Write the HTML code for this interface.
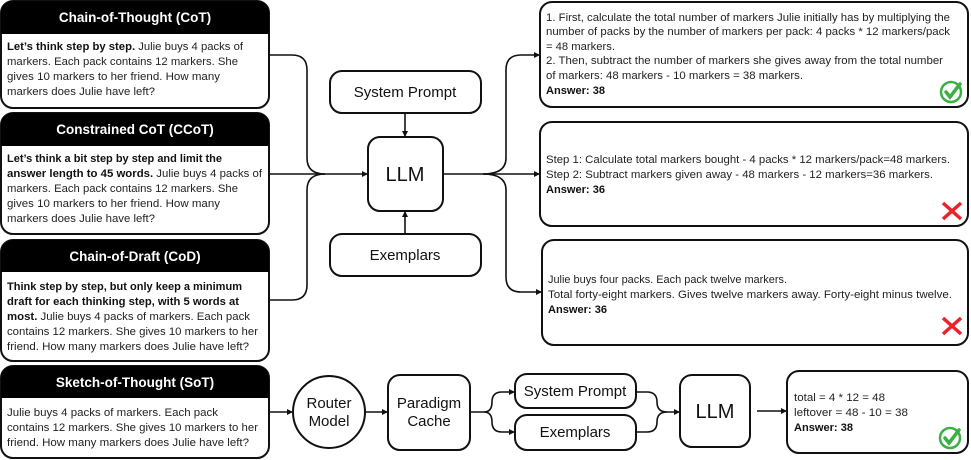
<!DOCTYPE html>
<html><head><meta charset="utf-8"><style>
html,body{margin:0;padding:0;background:#fff;}
svg{display:block;}
text{font-family:"Liberation Sans",sans-serif;fill:#222;}
.t{font-size:11px;}
.b{font-weight:bold;fill:#111;}
.h{font-size:13.5px;font-weight:bold;fill:#fff;}
.n{font-size:15px;fill:#111;}
.box{fill:#fff;stroke:#111;stroke-width:2;}
.ln{fill:none;stroke:#111;stroke-width:1.6;}
</style></head><body>
<svg width="971" height="460" viewBox="0 0 971 460" xmlns="http://www.w3.org/2000/svg">
<defs><marker id="a" markerWidth="6" markerHeight="6" refX="5" refY="3" orient="auto" markerUnits="userSpaceOnUse"><path d="M0,0 L6,3 L0,6 z" fill="#111"/></marker></defs>

<!-- Left boxes -->
<rect class="box" x="1" y="1" width="268" height="107" rx="12"/>
<path d="M1,13 a12,12 0 0 1 12,-12 h244 a12,12 0 0 1 12,12 v21 h-268 z" fill="#000"/>
<text class="h" x="135" y="22" text-anchor="middle">Chain-of-Thought (CoT)</text>
<text class="t" x="7" y="50" textLength="236" lengthAdjust="spacingAndGlyphs"><tspan class="b">Let’s think step by step.</tspan> Julie buys 4 packs of</text>
<text class="t" x="7" y="65" textLength="231" lengthAdjust="spacingAndGlyphs">markers. Each pack contains 12 markers. She</text>
<text class="t" x="7" y="80" textLength="213" lengthAdjust="spacingAndGlyphs">gives 10 markers to her friend. How many</text>
<text class="t" x="7" y="95" textLength="148" lengthAdjust="spacingAndGlyphs">markers does Julie have left?</text>

<rect class="box" x="1" y="113" width="268" height="121" rx="12"/>
<path d="M1,125 a12,12 0 0 1 12,-12 h244 a12,12 0 0 1 12,12 v21 h-268 z" fill="#000"/>
<text class="h" x="135" y="134" text-anchor="middle">Constrained CoT (CCoT)</text>
<text class="t b" x="7" y="162" textLength="215" lengthAdjust="spacingAndGlyphs">Let’s think a bit step by step and limit the</text>
<text class="t" x="7" y="177" textLength="255" lengthAdjust="spacingAndGlyphs"><tspan class="b">answer length to 45 words.</tspan> Julie buys 4 packs of</text>
<text class="t" x="7" y="192" textLength="231" lengthAdjust="spacingAndGlyphs">markers. Each pack contains 12 markers. She</text>
<text class="t" x="7" y="207" textLength="213" lengthAdjust="spacingAndGlyphs">gives 10 markers to her friend. How many</text>
<text class="t" x="7" y="222" textLength="148" lengthAdjust="spacingAndGlyphs">markers does Julie have left?</text>

<rect class="box" x="1" y="240" width="268" height="121" rx="12"/>
<path d="M1,252 a12,12 0 0 1 12,-12 h244 a12,12 0 0 1 12,12 v20 h-268 z" fill="#000"/>
<text class="h" x="135" y="261" text-anchor="middle">Chain-of-Draft (CoD)</text>
<text class="t b" x="7" y="290" textLength="235" lengthAdjust="spacingAndGlyphs">Think step by step, but only keep a minimum</text>
<text class="t b" x="7" y="305" textLength="232" lengthAdjust="spacingAndGlyphs">draft for each thinking step, with 5 words at</text>
<text class="t" x="7" y="320" textLength="243" lengthAdjust="spacingAndGlyphs"><tspan class="b">most.</tspan> Julie buys 4 packs of markers. Each pack</text>
<text class="t" x="7" y="335" textLength="251" lengthAdjust="spacingAndGlyphs">contains 12 markers. She gives 10 markers to her</text>
<text class="t" x="7" y="350" textLength="242" lengthAdjust="spacingAndGlyphs">friend. How many markers does Julie have left?</text>

<rect class="box" x="1" y="366" width="268" height="92" rx="12"/>
<path d="M1,378 a12,12 0 0 1 12,-12 h244 a12,12 0 0 1 12,12 v20 h-268 z" fill="#000"/>
<text class="h" x="135" y="387" text-anchor="middle">Sketch-of-Thought (SoT)</text>
<text class="t" x="7" y="416" textLength="211" lengthAdjust="spacingAndGlyphs">Julie buys 4 packs of markers. Each pack</text>
<text class="t" x="7" y="431" textLength="251" lengthAdjust="spacingAndGlyphs">contains 12 markers. She gives 10 markers to her</text>
<text class="t" x="7" y="446" textLength="242" lengthAdjust="spacingAndGlyphs">friend. How many markers does Julie have left?</text>

<!-- center -->
<rect class="box" x="330" y="71" width="151" height="42" rx="12"/>
<text class="n" x="405" y="97" text-anchor="middle">System Prompt</text>
<rect class="box" x="368" y="137" width="75" height="74" rx="12"/>
<text x="405" y="181" text-anchor="middle" style="font-size:20px;fill:#111">LLM</text>
<rect class="box" x="330" y="234" width="151" height="42" rx="12"/>
<text class="n" x="405" y="260" text-anchor="middle">Exemplars</text>
<path class="ln" d="M405,113 V136" marker-end="url(#a)"/>
<path class="ln" d="M405,234 V212" marker-end="url(#a)"/>
<path class="ln" d="M269,55 H292 Q307,55 307,70 V158 Q307,174 325,174"/>
<path class="ln" d="M269,300 H292 Q307,300 307,285 V190 Q307,174 325,174"/>
<path class="ln" d="M269,174 H367" marker-end="url(#a)"/>
<!-- right connectors -->
<path class="ln" d="M443,174 H539" marker-end="url(#a)"/>
<path class="ln" d="M483,174 Q506,174 506,158 V70 Q506,55 521,55 H539" marker-end="url(#a)"/>
<path class="ln" d="M483,174 Q506,174 506,190 V277 Q506,292 521,292 H541" marker-end="url(#a)"/>

<!-- right boxes -->
<rect class="box" x="540" y="2" width="428" height="105" rx="12"/>
<text class="t" x="546" y="21" textLength="404" lengthAdjust="spacingAndGlyphs">1. First, calculate the total number of markers Julie initially has by multiplying the</text>
<text class="t" x="546" y="35" textLength="404" lengthAdjust="spacingAndGlyphs">number of packs by the number of markers per pack: 4 packs * 12 markers/pack</text>
<text class="t" x="546" y="50" textLength="69" lengthAdjust="spacingAndGlyphs">= 48 markers.</text>
<text class="t" x="546" y="64" textLength="397" lengthAdjust="spacingAndGlyphs">2. Then, subtract the number of markers she gives away from the total number</text>
<text class="t" x="546" y="79" textLength="257" lengthAdjust="spacingAndGlyphs">of markers: 48 markers - 10 markers = 38 markers.</text>
<text class="t b" x="546" y="94" textLength="59" lengthAdjust="spacingAndGlyphs">Answer: 38</text>
<g transform="translate(951,92)"><circle r="10" fill="none" stroke="#3cb043" stroke-width="2.5"/><path d="M-5,0 L-1,5 L9,-8" fill="none" stroke="#3cb043" stroke-width="3.5" stroke-linecap="round"/></g>

<rect class="box" x="540" y="122" width="428" height="104" rx="12"/>
<text class="t" x="546" y="163" textLength="404" lengthAdjust="spacingAndGlyphs">Step 1: Calculate total markers bought - 4 packs * 12 markers/pack=48 markers.</text>
<text class="t" x="546" y="178" textLength="387" lengthAdjust="spacingAndGlyphs">Step 2: Subtract markers given away - 48 markers - 12 markers=36 markers.</text>
<text class="t b" x="546" y="193" textLength="59" lengthAdjust="spacingAndGlyphs">Answer: 36</text>
<path d="M943,203 L961,219 M961,203 L943,219" stroke="#e8232a" stroke-width="3.5"/>

<rect class="box" x="542" y="240" width="426" height="105" rx="12"/>
<text class="t" x="548" y="283" textLength="239" lengthAdjust="spacingAndGlyphs">Julie buys four packs. Each pack twelve markers.</text>
<text class="t" x="548" y="298" textLength="404" lengthAdjust="spacingAndGlyphs">Total forty-eight markers. Gives twelve markers away. Forty-eight minus twelve.</text>
<text class="t b" x="548" y="313" textLength="59" lengthAdjust="spacingAndGlyphs">Answer: 36</text>
<path d="M943,318 L961,334 M961,318 L943,334" stroke="#e8232a" stroke-width="3.5"/>

<!-- bottom pipeline -->
<path class="ln" d="M269,412 H292" marker-end="url(#a)"/>
<circle class="box" cx="329" cy="412" r="36"/>
<text class="n" x="329" y="408" text-anchor="middle">Router</text>
<text class="n" x="329" y="426" text-anchor="middle">Model</text>
<path class="ln" d="M365,412 H387" marker-end="url(#a)"/>
<rect class="box" x="388" y="375" width="82" height="75" rx="12"/>
<text class="n" x="429" y="408" text-anchor="middle">Paradigm</text>
<text class="n" x="429" y="426" text-anchor="middle">Cache</text>
<path class="ln" d="M470,412 H484 Q492,412 492,402 Q492,392 502,392 H514" marker-end="url(#a)"/>
<path class="ln" d="M484,412 Q492,412 492,422 Q492,432 502,432 H514" marker-end="url(#a)"/>
<rect class="box" x="515" y="374" width="121" height="34" rx="12"/>
<text class="n" x="575" y="396" text-anchor="middle">System Prompt</text>
<rect class="box" x="515" y="415" width="121" height="35" rx="12"/>
<text class="n" x="575" y="437" text-anchor="middle">Exemplars</text>
<path class="ln" d="M636,392 H647 Q657,392 657,402 Q657,412 667,412"/>
<path class="ln" d="M636,432 H647 Q657,432 657,422 Q657,412 667,412 H679" marker-end="url(#a)"/>
<rect class="box" x="680" y="375" width="70" height="72" rx="12"/>
<text x="715" y="418" text-anchor="middle" style="font-size:20px;fill:#111">LLM</text>
<path class="ln" d="M757,411 H786" marker-end="url(#a)"/>
<rect class="box" x="787" y="371" width="181" height="82" rx="12"/>
<text class="t" x="794" y="401" textLength="91" lengthAdjust="spacingAndGlyphs">total = 4 * 12 = 48</text>
<text class="t" x="794" y="416" textLength="114" lengthAdjust="spacingAndGlyphs">leftover = 48 - 10 = 38</text>
<text class="t b" x="794" y="431" textLength="59" lengthAdjust="spacingAndGlyphs">Answer: 38</text>
<g transform="translate(950,438)"><circle r="10" fill="none" stroke="#3cb043" stroke-width="2.5"/><path d="M-5,0 L-1,5 L9,-8" fill="none" stroke="#3cb043" stroke-width="3.5" stroke-linecap="round"/></g>
</svg>
</body></html>
